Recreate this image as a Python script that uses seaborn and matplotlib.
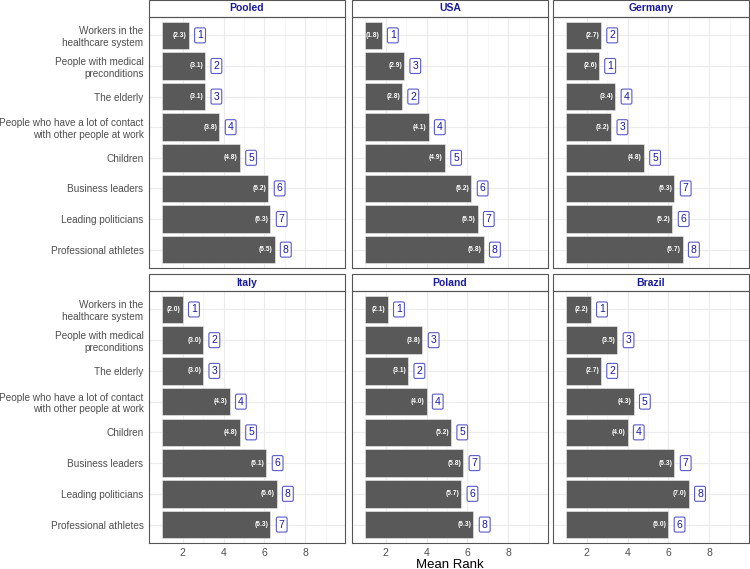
import numpy as np
import pandas as pd
import matplotlib
matplotlib.use("Agg")
import matplotlib.pyplot as plt
from matplotlib.patches import Rectangle
import seaborn as sns

## Données

groups = ["Pooled", "USA", "Germany", "Italy", "Poland", "Brazil"]
categories = [
    "Workers in the\nhealthcare system",
    "People with medical\npreconditions",
    "The elderly",
    "People who have a lot of contact\nwith other people at work",
    "Children",
    "Business leaders",
    "Leading politicians",
    "Professional athletes",
]

pooled_mean = [2.3, 3.1, 3.1, 3.8, 4.8, 6.2, 6.3, 6.5]
usa_mean = [1.8, 2.9, 2.8, 4.1, 4.9, 6.2, 6.5, 6.8]
germany_mean = [2.7, 2.6, 3.4, 3.2, 4.8, 6.3, 6.2, 6.7]
italy_mean = [2.0, 3.0, 3.0, 4.3, 4.8, 6.1, 6.6, 6.3]
poland_mean = [2.1, 3.8, 3.1, 4.0, 5.2, 5.8, 5.7, 6.3]
brazil_mean = [2.2, 3.5, 2.7, 4.3, 4.0, 6.3, 7.0, 6.0]

pooled_rank = [1, 2, 3, 4, 5, 6, 7, 8]
usa_rank = [1, 3, 2, 4, 5, 6, 7, 8]
germany_rank = [2, 1, 4, 3, 5, 7, 6, 8]
italy_rank = [1, 2, 3, 4, 5, 6, 8, 7]
poland_rank = [1, 3, 2, 4, 5, 7, 6, 8]
brazil_rank = [1, 3, 2, 5, 4, 7, 8, 6]

means = [pooled_mean, usa_mean, germany_mean, italy_mean, poland_mean, brazil_mean]
ranks = [pooled_rank, usa_rank, germany_rank, italy_rank, poland_rank, brazil_rank]

rows = []
for g, m, r in zip(groups, means, ranks):
    for c, v, k in zip(categories, m, r):
        rows.append({"group": g, "category": c, "mean": v, "rank": k})
df = pd.DataFrame(rows)

## Figure

sns.set_style("whitegrid")
plt.rcParams["font.family"] = ["Liberation Sans", "DejaVu Sans"]

W, H = 750, 569
fig = plt.figure(figsize=(7.5, 5.69), dpi=100)

col_left = [149, 352, 553]
col_w = 196
row_top = [17, 291]
row_bottom = [268, 543]
strip_h = 17

for i, g in enumerate(groups):
    r, c = divmod(i, 3)
    x0 = col_left[c] / W
    y0 = 1 - row_bottom[r] / H
    h = (row_bottom[r] - row_top[r]) / H
    ax = fig.add_axes([x0, y0, col_w / W, h])
    sub = df[df.group == g]
    sns.barplot(data=sub, x="mean", y="category", order=categories, orient="h",
                color="#595959", saturation=1, width=0.9, ax=ax,
                edgecolor="#f0f0f0", linewidth=0.4, zorder=2)
    # les barres partent de 1 (rang minimum)
    for p in ax.patches:
        p.set_width(p.get_width() - 1)
        p.set_x(1)

    for j, (v, k) in enumerate(zip(sub["mean"], sub["rank"])):
        ax.text(v - 0.1, j, f"({v:.1f})", ha="right", va="center",
                fontsize=4.8, color="white", fontweight="bold", zorder=3)
        ax.text(v + 0.55, j, str(k), ha="center", va="center",
                fontsize=7.5, color="#1a1a9c", zorder=3,
                bbox=dict(boxstyle="round,pad=0.24,rounding_size=0.15",
                          fc="white", ec="#5a5ac8", lw=0.8))

    ax.set_xlim(0.35, 9.95)
    ax.set_ylim(7.6, -0.6)
    ax.set_xticks([2, 4, 6, 8])
    ax.set_xticks([1, 3, 5, 7, 9], minor=True)
    ax.grid(True, which="major", axis="both", color="#ebebeb", lw=0.8, zorder=0)
    ax.grid(True, which="minor", axis="x", color="#f4f4f4", lw=0.5, zorder=0)
    ax.set_axisbelow(True)
    ax.set_xlabel("")
    ax.set_ylabel("")
    ax.tick_params(axis="both", which="major", length=2.5, width=0.6,
                   color="#333333", labelsize=7.5, labelcolor="#4d4d4d", pad=1)
    ax.tick_params(axis="x", which="minor", length=0)
    ax.tick_params(axis="y", labelsize=7.2, pad=1.5)
    if c != 0:
        ax.tick_params(axis="y", labelleft=False, length=0)
    if r == 0:
        ax.tick_params(axis="x", labelbottom=False, length=0)
    for s in ax.spines.values():
        s.set_visible(True)
        s.set_color("#555555")
        s.set_linewidth(0.8)

    # bandeau du titre
    ph = row_bottom[r] - row_top[r]
    ax.add_patch(Rectangle((0, 1), 1, strip_h / ph, transform=ax.transAxes,
                           fc="white", ec="#555555", lw=0.8, clip_on=False))
    ax.text(0.5, 1 + strip_h / ph / 2, g, transform=ax.transAxes,
            ha="center", va="center", fontsize=7.5, fontweight="bold",
            color="#1a1a9c")

fig.text((352 + col_w / 2) / W, 1 - 567.5 / H, "Mean Rank", ha="center",
         va="baseline", fontsize=9.5, color="black")

plt.savefig("out.png", dpi=100)
